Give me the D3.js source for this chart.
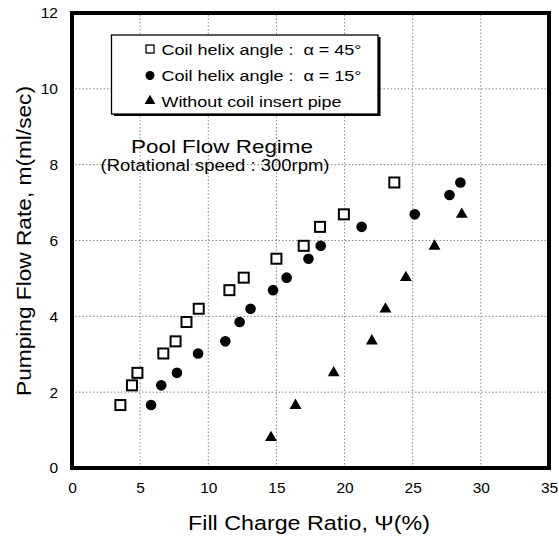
<!DOCTYPE html>
<html><head><meta charset="utf-8">
<script src="https://cdn.jsdelivr.net/npm/d3@7"></script>
<style>body{margin:0;background:#fff}svg{display:block}text{font-family:"Liberation Sans",Arial,sans-serif;fill:#000}</style>
</head><body><svg id="c" width="559" height="538"></svg>
<script>
const xTicks = [0,5,10,15,20,25,30,35];
const yTicks = [0,2,4,6,8,10,12];
const sq45X = [3.55,4.4,4.8,6.7,7.6,8.4,9.3,11.55,12.6,15.0,17.0,18.2,19.95,23.65];
const sq45Y = [1.66,2.18,2.51,3.02,3.34,3.85,4.2,4.69,5.02,5.52,5.86,6.36,6.69,7.53];
const c15X = [5.8,6.55,7.7,9.25,11.25,12.3,13.1,14.75,15.75,17.35,18.25,21.25,25.15,27.7,28.5];
const c15Y = [1.66,2.18,2.51,3.02,3.34,3.85,4.2,4.69,5.02,5.52,5.86,6.36,6.69,7.2,7.53];
const triX = [14.6,16.4,19.2,22.0,23.0,24.5,26.6,28.6];
const triY = [0.8,1.65,2.51,3.35,4.19,5.02,5.85,6.69];
const legendLabels = ["Coil helix angle :  \u03b1 = 45\u00b0","Coil helix angle :  \u03b1 = 15\u00b0","Without coil insert pipe"];

const svg = d3.select("#c");
const x = d3.scaleLinear().domain([0,35]).range([72,549]);
const y = d3.scaleLinear().domain([0,12]).range([468,13]);

// grid
const g = svg.append("g");
g.selectAll(".vg").data(xTicks.slice(1,-1)).join("line")
  .attr("x1",d=>x(d)).attr("x2",d=>x(d)).attr("y1",y(0)).attr("y2",y(12))
  .attr("stroke","#888").attr("stroke-width",1).attr("stroke-dasharray","1.5,2");
g.selectAll(".hg").data(yTicks.slice(1,-1)).join("line")
  .attr("x1",x(0)).attr("x2",x(35)).attr("y1",d=>y(d)).attr("y2",d=>y(d))
  .attr("stroke","#888").attr("stroke-width",1).attr("stroke-dasharray","1.5,2");

// axes (labels only)
const xa = svg.append("g").attr("transform",`translate(0,${y(0)})`)
  .call(d3.axisBottom(x).tickValues(xTicks).tickSize(0).tickPadding(14));
xa.select(".domain").remove();
xa.selectAll("text").attr("font-size",15.5).style("font-family","Liberation Sans, Arial");
const ya = svg.append("g").attr("transform",`translate(${x(0)},0)`)
  .call(d3.axisLeft(y).tickValues(yTicks).tickSize(0).tickPadding(14));
ya.select(".domain").remove();
ya.selectAll("text").attr("font-size",15.5).style("font-family","Liberation Sans, Arial");

// frame
svg.append("rect").attr("x",x(0)).attr("y",y(12)).attr("width",x(35)-x(0)).attr("height",y(0)-y(12))
  .attr("fill","none").attr("stroke","#000").attr("stroke-width",4);

// axis titles
svg.append("text").attr("x",309).attr("y",530).attr("text-anchor","middle").attr("font-size",20.5)
  .attr("textLength",242).attr("lengthAdjust","spacingAndGlyphs")
  .text("Fill Charge Ratio, \u03a8(%)");
svg.append("text").attr("transform","translate(31,241) rotate(-90)").attr("text-anchor","middle").attr("font-size",20.5)
  .attr("textLength",310).attr("lengthAdjust","spacingAndGlyphs")
  .text("Pumping Flow Rate, m(ml/sec)");

// annotation
svg.append("text").attr("x",222).attr("y",153).attr("text-anchor","middle").attr("font-size",19)
  .attr("textLength",182).attr("lengthAdjust","spacingAndGlyphs").text("Pool Flow Regime");
svg.append("text").attr("x",215).attr("y",171).attr("text-anchor","middle").attr("font-size",16)
  .attr("textLength",229).attr("lengthAdjust","spacingAndGlyphs").text("(Rotational speed : 300rpm)");

// data
const sqData = sq45X.map((v,i)=>[v,sq45Y[i]]);
const cData = c15X.map((v,i)=>[v,c15Y[i]]);
const tData = triX.map((v,i)=>[v,triY[i]]);
svg.append("g").selectAll("rect").data(sqData).join("rect")
  .attr("x",d=>x(d[0])-5).attr("y",d=>y(d[1])-5).attr("width",10).attr("height",10)
  .attr("fill","#fff").attr("stroke","#000").attr("stroke-width",2);
svg.append("g").selectAll("circle").data(cData).join("circle")
  .attr("cx",d=>x(d[0])).attr("cy",d=>y(d[1])).attr("r",5.3).attr("fill","#000");
const triPath = d3.symbol().type(d3.symbolTriangle).size(62);
svg.append("g").selectAll("path").data(tData).join("path")
  .attr("d",triPath).attr("transform",d=>`translate(${x(d[0])},${y(d[1])})`).attr("fill","#000");

// legend
const lg = svg.append("g");
lg.append("rect").attr("x",114).attr("y",37).attr("width",266.5).attr("height",79).attr("fill","#000");
lg.append("rect").attr("x",111.5).attr("y",35).attr("width",266.5).attr("height",79)
  .attr("fill","#fff").attr("stroke","#000").attr("stroke-width",1.3);
const rows = [49,75.5,101];
const lens = [200,200,180];
lg.append("rect").attr("x",146).attr("y",rows[0]-4).attr("width",8).attr("height",8)
  .attr("fill","#fff").attr("stroke","#000").attr("stroke-width",1.3);
lg.append("circle").attr("cx",150).attr("cy",rows[1]).attr("r",4.5).attr("fill","#000");
lg.append("path").attr("d",d3.symbol().type(d3.symbolTriangle).size(50)).attr("transform",`translate(150,${rows[2]})`).attr("fill","#000");
lg.selectAll(".lt").data(legendLabels).join("text")
  .attr("x",161.5).attr("y",(d,i)=>rows[i]+5.5).attr("font-size",15.5)
  .attr("textLength",(d,i)=>lens[i]).attr("lengthAdjust","spacingAndGlyphs")
  .attr("xml:space","preserve").style("white-space","pre").text(d=>d);
</script></body></html>
